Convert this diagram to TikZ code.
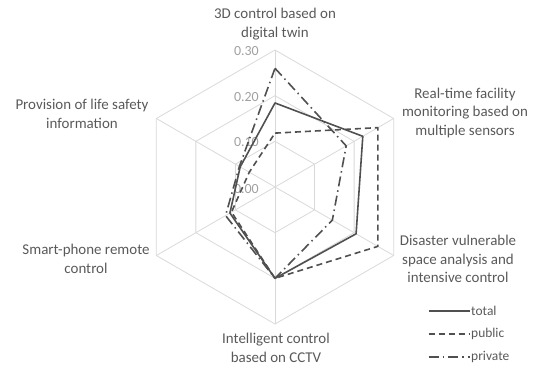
\documentclass[tikz,border=0pt]{standalone}
\usepackage{fontspec}
\setmainfont{Carlito}
\definecolor{gridgray}{HTML}{D9D9D9}
\definecolor{linegray}{HTML}{505050}
\definecolor{textgray}{HTML}{595959}
\definecolor{tickgray}{HTML}{A0A0A0}
\begin{document}
\begin{tikzpicture}[x=1bp,y=1bp,
    grid/.style={draw=gridgray,line width=0.8bp},
    series/.style={draw=linegray,line width=1.6bp,line join=round},
    pub/.style={series,dash pattern=on 6bp off 4bp},
    priv/.style={series,dash pattern=on 10bp off 4bp on 1.5bp off 4bp},
    cat/.style={text=textgray,align=center,font=\fontsize{15}{18.5}\selectfont},
    tick/.style={text=tickgray,anchor=east,font=\fontsize{14}{16}\selectfont,inner sep=0pt},
    leg/.style={text=textgray,anchor=west,font=\fontsize{13.5}{15}\selectfont,inner sep=1bp}]
    \def\rr{456.7}
    \useasboundingbox (-275,-179) rectangle (262,187);

    % grid
    \coordinate (o) at (0,0);
    \foreach \i in {1,...,6} \coordinate (g\i) at ({150-60*\i}:{0.3*\rr});
    \foreach \r in {0.1,0.2,0.3}
        \draw[grid] (90:{\r*\rr}) \foreach \a in {30,-30,-90,-150,150} {-- (\a:{\r*\rr})} -- cycle;
    \foreach \i in {1,...,6} \draw[grid] (o) -- (g\i);

    % tick labels
    \node[tick] (k0) at (-16,-2) {0.00};
    \node[tick] (k1) at (-16,{0.1*\rr-1}) {0.10};
    \node[tick] (k2) at (-16,{0.2*\rr-1}) {0.20};
    \node[tick] (k3) at (-16,{0.3*\rr-1}) {0.30};

    % categories
    \node[cat] (c1) at (0,163) {3D control based on\\digital twin};
    \node[cat] (c2) at (190,74) {Real-time facility\\monitoring based on\\multiple sensors};
    \node[cat] (c3) at (183,-72) {Disaster vulnerable\\space analysis and\\intensive control};
    \node[cat] (c4) at (1,-161) {Intelligent control\\based on CCTV};
    \node[cat] (c5) at (-189,-72) {Smart-phone remote\\control};
    \node[cat] (c6) at (-193,73) {Provision of life safety\\information};

    % data
    \foreach \v [count=\i] in {0.184,0.222,0.205,0.200,0.114,0.088}
        \coordinate (t\i) at ({150-60*\i}:{\v*\rr});
    \foreach \v [count=\i] in {0.118,0.260,0.260,0.200,0.110,0.065}
        \coordinate (p\i) at ({150-60*\i}:{\v*\rr});
    \foreach \v [count=\i] in {0.260,0.180,0.145,0.200,0.125,0.090}
        \coordinate (q\i) at ({150-60*\i}:{\v*\rr});

    \draw[pub] (p1) -- (p2) -- (p3) -- (p4) -- (p5) -- (p6) -- cycle;
    \draw[priv] (q1) -- (q2) -- (q3) -- (q4) -- (q5) -- (q6) -- cycle;
    \draw[series] (t1) -- (t2) -- (t3) -- (t4) -- (t5) -- (t6) -- cycle;

    % legend
    \coordinate (la1) at (153.5,-123.7); \coordinate (lb1) at (195,-123.7);
    \coordinate (la2) at (153.5,-147);   \coordinate (lb2) at (195,-147);
    \coordinate (la3) at (153.5,-170);   \coordinate (lb3) at (195,-170);
    \draw[series] (la1) -- (lb1); \node[leg] (l1) at (lb1) {total};
    \draw[pub] (la2) -- (lb2);    \node[leg] (l2) at (lb2) {public};
    \draw[priv] (la3) -- (lb3);   \node[leg] (l3) at (lb3) {private};
\end{tikzpicture}
\end{document}
